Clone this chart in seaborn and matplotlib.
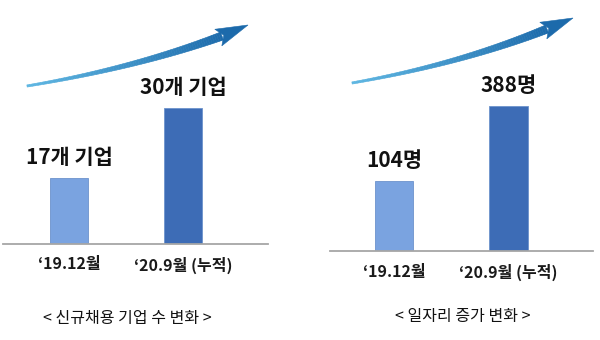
import numpy as np
import pandas as pd
import matplotlib
matplotlib.use("Agg")
import matplotlib.pyplot as plt
from matplotlib.collections import PolyCollection
from matplotlib.patches import Polygon
from matplotlib.colors import to_rgb
import seaborn as sns

# ---------------- data ----------------
periods = ["\u201819.12월", "\u201820.9월 (누적)"]
company_counts = [17, 30]
company_labels = ["17개 기업", "30개 기업"]
job_counts = [104, 388]
job_labels = ["104명", "388명"]
captions = ["< 신규채용 기업 수 변화 >", "< 일자리 증가 변화 >"]

# ---------------- style ----------------
sns.set_theme(style="white")
plt.rcParams["font.family"] = ["Noto Sans CJK KR", "DejaVu Sans"]

LIGHT = "#7aa3e0"
DARK = "#3d6cb6"
AXIS_GRAY = "#a6a6a6"

W, H = 600, 340
fig = plt.figure(figsize=(6, 3.4), dpi=100)
fig.patch.set_facecolor("white")


def px_rect(x0, y_top, x1, y_bot):
    return [x0 / W, 1 - y_bot / H, (x1 - x0) / W, (y_bot - y_top) / H]


def draw_panel(rect, values, labels, base, xlim):
    ax = fig.add_axes(rect)
    df = pd.DataFrame({"period": periods, "value": values})
    df["height"] = df["value"] - base
    sns.barplot(data=df, x="period", y="height", hue="period",
                palette=[LIGHT, DARK], legend=False, width=0.333,
                bottom=base, ax=ax, saturation=1,
                edgecolor=["#6c93cc", "#35609f"], linewidth=0.6)
    ax.set_ylim(base, max(values))
    ax.set_xlim(*xlim)
    for s in ["top", "left", "right"]:
        ax.spines[s].set_visible(False)
    ax.spines["bottom"].set_color(AXIS_GRAY)
    ax.spines["bottom"].set_linewidth(1.3)
    ax.set_yticks([])
    ax.set_xlabel("")
    ax.set_ylabel("")
    ax.tick_params(axis="x", length=0, pad=9)
    for t in ax.get_xticklabels():
        t.set_fontsize(11.5)
        t.set_fontweight("bold")
        t.set_color("#1a1a1a")
    for i, (v, lab) in enumerate(zip(values, labels)):
        ax.annotate(lab, (i, v), xytext=(0, 14.5), textcoords="offset points",
                    ha="center", va="center", fontsize=15, fontweight="bold",
                    color="#111111", annotation_clip=False)
    ax.patch.set_alpha(0)
    return ax


draw_panel(px_rect(3, 108, 268, 244), company_counts, company_labels,
           base=4.74, xlim=(-0.579, 1.746))
draw_panel(px_rect(330, 106, 593, 251), job_counts, job_labels,
           base=-161, xlim=(-0.559, 1.738))

# captions
fig.text(127 / W, 1 - 318 / H, captions[0], ha="center", va="center",
         fontsize=11.5, color="#111111")
fig.text(463 / W, 1 - 316 / H, captions[1], ha="center", va="center",
         fontsize=11.5, color="#111111")

# decorative gradient arrows (pixel overlay)
ov = fig.add_axes([0, 0, 1, 1], zorder=5)
ov.set_xlim(0, W)
ov.set_ylim(H, 0)
ov.axis("off")
ov.patch.set_alpha(0)

c_tail = np.array(to_rgb("#5db6e2"))
c_end = np.array(to_rgb("#1c6aab"))


def gradient_arrow(tail, ctrl, body_end, tip, w0=1.1, w1=4.2, head_half=9.0):
    tail, ctrl, body_end, tip = map(np.array, (tail, ctrl, body_end, tip))
    t = np.linspace(0, 1, 80)[:, None]
    pts = (1 - t) ** 2 * tail + 2 * (1 - t) * t * ctrl + t ** 2 * body_end
    d = np.gradient(pts, axis=0)
    d /= np.linalg.norm(d, axis=1)[:, None]
    nrm = np.column_stack([-d[:, 1], d[:, 0]])
    wid = (w0 + (w1 - w0) * t[:, 0] ** 1.2)[:, None]
    up = pts + nrm * wid
    dn = pts - nrm * wid
    polys, cols = [], []
    for i in range(len(pts) - 1):
        polys.append([up[i], up[i + 1], dn[i + 1], dn[i]])
        f = t[i, 0]
        cols.append(tuple(c_tail * (1 - f) + c_end * f))
    pc = PolyCollection(polys, facecolors=cols, edgecolors=cols, linewidths=0.4)
    ov.add_collection(pc)
    hd = tip - body_end
    hd = hd / np.linalg.norm(hd)
    hn = np.array([-hd[1], hd[0]])
    base_c = body_end - hd * 4
    notch = body_end + hd * 2
    head = Polygon([tip, base_c + hn * head_half, notch, base_c - hn * head_half],
                   closed=True, facecolor=tuple(c_end), edgecolor=tuple(c_end),
                   linewidth=0.4)
    ov.add_patch(head)


gradient_arrow((27, 86), (135, 68), (222, 36), (248, 25))
gradient_arrow((352, 83), (460, 64), (547, 29), (573, 18))

fig.savefig("out.png", dpi=100, facecolor="white")
